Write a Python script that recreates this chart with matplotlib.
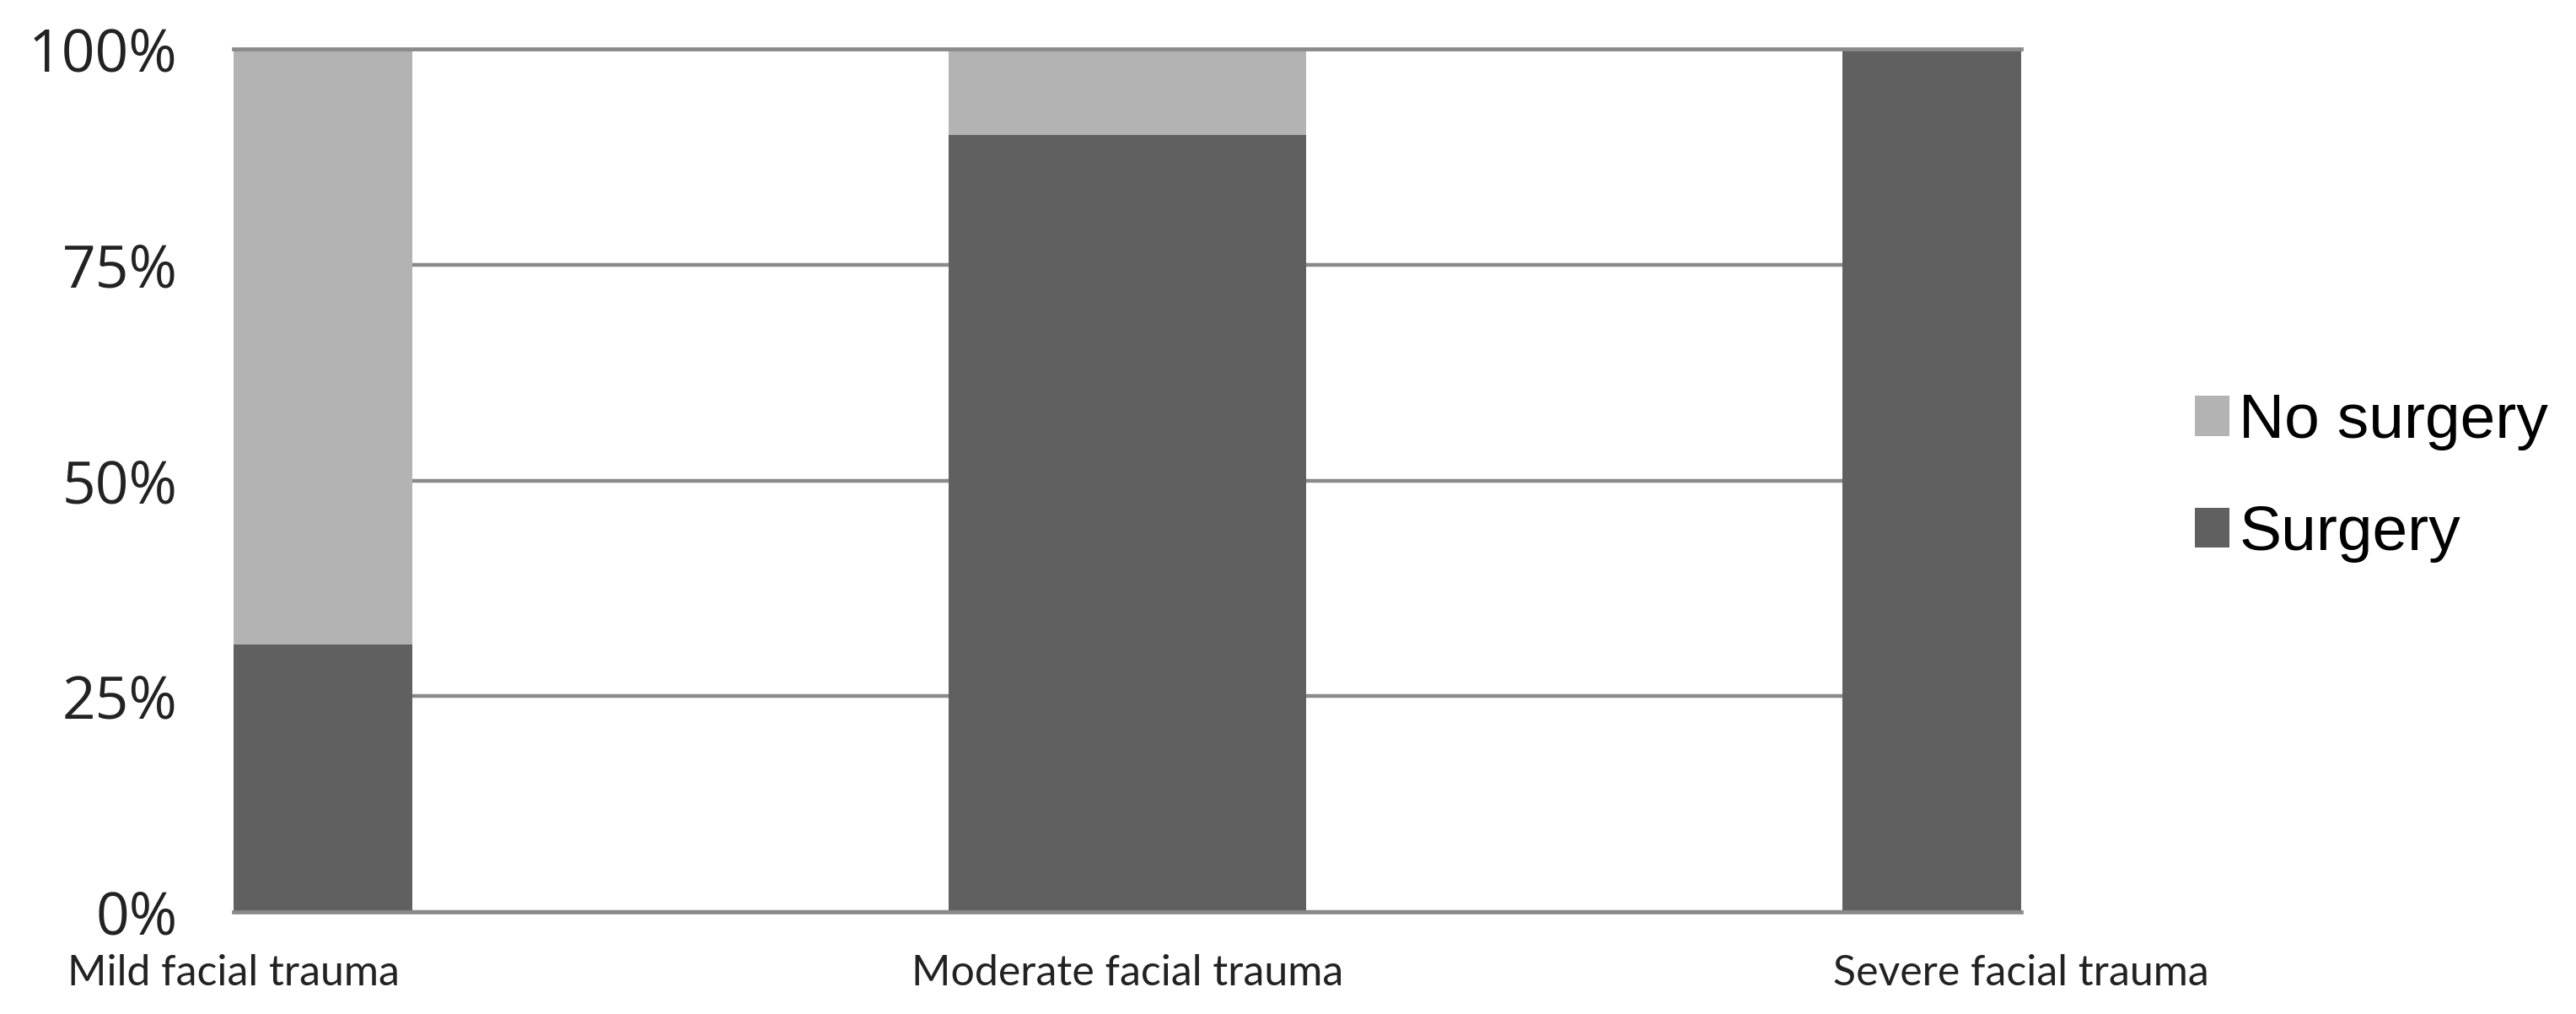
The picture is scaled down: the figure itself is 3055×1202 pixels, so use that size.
import matplotlib.pyplot as plt
import numpy as np

categories = ['Mild facial trauma', 'Moderate facial trauma', 'Severe facial trauma']
surgery = [31, 90, 100]
no_surgery = [69, 10, 0]
y_ticks = [0, 25, 50, 75, 100]
y_labels = ['0%', '25%', '50%', '75%', '100%']

fig = plt.figure(figsize=(30.55, 12.02), dpi=100)
ax = fig.add_axes([0.0907, 0.1007, 0.6939, 0.851])

x = np.arange(len(categories))
w = 0.40
ax.bar(x, surgery, width=w, color='#606060', label='Surgery', zorder=2)
ax.bar(x, no_surgery, width=w, bottom=surgery, color='#b3b3b3', label='No surgery', zorder=2)

ax.set_xlim(0, len(categories) - 1)
ax.set_ylim(0, 100)

ax.set_yticks(y_ticks)
ax.set_yticklabels(y_labels, fontsize=50, family='Open Sans', color='#222222')
ax.set_xticks(x)
ax.set_xticklabels(categories, fontsize=36, family='Lato', color='#222222')
ax.tick_params(axis='both', length=0)
ax.tick_params(axis='y', pad=48)
ax.tick_params(axis='x', pad=36)

ax.yaxis.grid(True, color='#8a8a8a', linewidth=3.2, zorder=0)
ax.set_axisbelow(True)
for side in ['left', 'right']:
    ax.spines[side].set_visible(False)
for side in ['top', 'bottom']:
    ax.spines[side].set_color('#8a8a8a')
    ax.spines[side].set_linewidth(3.4)

handles, labels = ax.get_legend_handles_labels()
fig.legend(handles[::-1], labels[::-1], loc='center left', bbox_to_anchor=(0.852, 0.529),
           frameon=False, prop={'family': 'Liberation Sans', 'size': 54},
           handlelength=0.55, handleheight=0.6, handletextpad=0.15,
           labelspacing=0.85, borderpad=0, borderaxespad=0)

fig.savefig('out.png', dpi=100)
